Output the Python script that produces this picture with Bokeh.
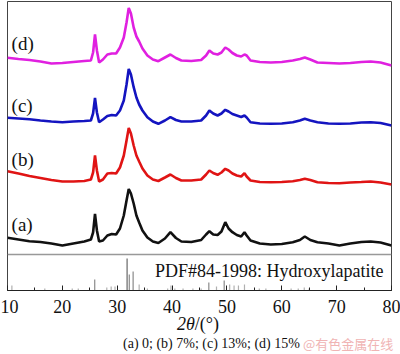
from bokeh.plotting import figure
from bokeh.models import Range1d, Span, Label, SingleIntervalTicker, Div
from bokeh.layouts import column
from bokeh.embed import file_html
from bokeh.resources import INLINE

# ---- data (intensity in arbitrary units, curves already offset) ----
two_theta = [10, 12, 14, 16, 18, 20, 22, 24, 25.2, 25.6, 25.95, 26.3, 26.7, 27.4, 28.2, 29.0,
             29.8, 30.5, 31.2, 31.7, 32.1, 32.5, 33.0, 33.5, 34.0, 34.6, 35.5, 36.5, 37.5, 38.7,
             39.7, 40.7, 41.7, 43.5, 45.3, 46.2, 46.8, 47.5, 48.3, 49.0, 49.7, 50.3, 51.0, 51.8,
             52.6, 53.2, 53.6, 54.3, 56.0, 58.0, 60.0, 62.0, 63.3, 64.2, 65.2, 66.5, 68.5, 70.5,
             72.5, 74.5, 76.2, 78.0, 80.0]

curve_a = [52.7, 51, 49.3, 48.5, 47, 45, 47, 49, 51, 58, 76.7, 60, 49, 50, 55, 56.5,
           56, 62, 75, 90, 101.5, 97, 87, 75, 68, 60, 53, 49, 47.5, 52,
           58.3, 52.5, 49, 48.5, 50.5, 56, 59.3, 56, 55.5, 59, 68.3, 62, 58.3, 55.5,
           54, 58.3, 55, 50, 47, 46, 46.5, 48.3, 50.5, 54, 50.5, 48.3, 47, 45,
           47, 48.5, 49, 48, 45]

curve_b = [119.3, 117, 114.5, 112.5, 110.5, 109, 109, 109.5, 111, 118, 135, 120, 109, 111, 117, 117.5,
           117, 123, 135, 150, 162.5, 157, 145, 135, 129, 122, 115, 111, 109.5, 113,
           116, 112.5, 110, 110, 111, 116, 120, 117.5, 115.7, 118, 121.7, 120, 117, 115,
           114, 117.3, 114, 110, 108.5, 108.3, 108.5, 109.3, 110.5, 111.7, 110.5, 108.3, 107.5, 107.3,
           108, 108.5, 109, 108, 106]

curve_c = [172.7, 172, 171.3, 170, 169, 168.3, 169, 169.5, 170, 177, 192.7, 178, 168.3, 171, 174.5, 175.5,
           175, 180, 190, 206, 221.5, 216, 203.3, 193, 186, 180, 173.3, 169, 166.7, 170,
           173.3, 170.5, 169, 169, 170, 175, 180, 177, 175, 177, 180.7, 179, 176.5, 175,
           173.5, 175, 173, 168.3, 167, 166.7, 167, 168.3, 170, 171.7, 170, 168.3, 167, 166.7,
           167, 168, 168.3, 167.5, 165]

curve_d = [232.7, 231.5, 230.5, 229, 227, 227.5, 228.5, 229.5, 230, 238, 256, 240, 228, 231, 236, 237,
           237, 243, 253, 268, 282.5, 277, 263, 254, 249, 242, 235, 231, 229.3, 233,
           236, 232.5, 230, 229.5, 230.5, 235, 240, 237, 236, 238, 243, 241, 237.5, 235,
           234, 236, 235, 230, 228.5, 228, 228.5, 230, 231.5, 233, 231, 228, 227.5, 227,
           227.5, 228.5, 229, 228, 225]

curve_names = ["(a)", "(b)", "(c)", "(d)"]
curve_label_y = [66, 131, 185, 247]

pdf_pos = [10.8, 16.8, 21.8, 22.9, 25.9, 28.1, 28.9, 29.6, 31.8, 32.2, 32.9, 34.0, 35.5, 39.2,
           39.8, 40.5, 42.0, 43.8, 45.3, 46.7, 48.1, 49.5, 50.5, 51.3, 52.1, 53.2, 55.9, 57.1,
           61.7, 63.0, 64.1, 65.0]
pdf_int = [5, 2, 2, 2, 11, 3, 4, 4, 32, 16, 19, 6, 2, 2,
           5, 2, 2, 2, 2, 8, 4, 10, 6, 5, 5, 6, 2, 2,
           2, 2, 3, 2]
pdf_label = "PDF#84-1998: Hydroxylapatite"
pdf_panel_top = 36

x_ticks = [10, 20, 30, 40, 50, 60, 70, 80]
x_label_italic = "2θ"
x_label_rest = "/(°)"
caption = "(a) 0; (b) 7%; (c) 13%; (d) 15%"
watermark = "@有色金属在线"

FONT = "Liberation Serif"

p = figure(width=400, height=320, output_backend="svg", toolbar_location=None,
           x_range=Range1d(10, 80), y_range=Range1d(0, 289),
           min_border_left=7, min_border_right=9, min_border_top=1, min_border_bottom=30)
p.background_fill_color = "white"
p.border_fill_color = "white"
p.outline_line_color = "#444444"
p.outline_line_width = 1
p.xgrid.visible = False
p.ygrid.visible = False
p.yaxis.visible = False

ax = p.xaxis[0]
ax.ticker = SingleIntervalTicker(interval=10, num_minor_ticks=2)
ax.major_tick_in = 5
ax.major_tick_out = 0
ax.minor_tick_in = 3
ax.minor_tick_out = 0
ax.axis_line_color = "#222222"
ax.major_tick_line_color = "#222222"
ax.minor_tick_line_color = "#222222"
ax.major_label_text_font = FONT
ax.major_label_text_font_size = "18px"
ax.major_label_text_color = "#111111"
ax.major_label_standoff = 9

# reference sticks
stick_colors = ["#666666" if h >= 20 else ("#8a8a8a" if h >= 8 else "#b0b0b0") for h in pdf_int]
p.segment(x0=pdf_pos, y0=[0] * len(pdf_pos), x1=pdf_pos, y1=pdf_int,
          line_color=stick_colors, line_width=1.2)
p.add_layout(Span(location=pdf_panel_top, dimension="width", line_color="#999999", line_width=1.5))
p.add_layout(Label(x=36.9, y=20, text=pdf_label, text_font=FONT, text_font_size="18px",
                   text_baseline="middle", text_color="#111111"))

# curves
colors = ["#111111", "#e01414", "#1414c0", "#e020e0"]
for ys, col in zip([curve_a, curve_b, curve_c, curve_d], colors):
    p.line(two_theta, ys, line_color=col, line_width=2.6)

for name, ly in zip(curve_names, curve_label_y):
    p.add_layout(Label(x=10.75, y=ly, text=name, text_font=FONT, text_font_size="19px",
                       text_baseline="middle", text_color="#111111"))

html = (
    '<div style="position:relative;width:400px;height:34px;overflow:visible;'
    'font-family:\'Liberation Serif\';color:#111111;">'
    f'<span style="position:absolute;left:177px;top:-5px;font-size:18px;line-height:18px;white-space:nowrap;'
    f'font-family:\'Liberation Serif\';">'
    f'<i style="font-family:\'Liberation Serif\';">{x_label_italic}</i>{x_label_rest}</span>'
    f'<span style="position:absolute;left:123px;top:17px;font-size:14px;line-height:14px;white-space:nowrap;">{caption}</span>'
    f'<span style="position:absolute;left:303px;top:17px;font-size:13px;line-height:14px;white-space:nowrap;'
    f'color:#f0b4b4;font-family:\'Noto Sans CJK SC\';">{watermark}</span>'
    '</div>'
)
div = Div(text=html, width=400, height=34, margin=0, styles={"overflow": "visible"})

layout = column(p, div, spacing=0)
open("out.html", "w").write(file_html(layout, INLINE))
